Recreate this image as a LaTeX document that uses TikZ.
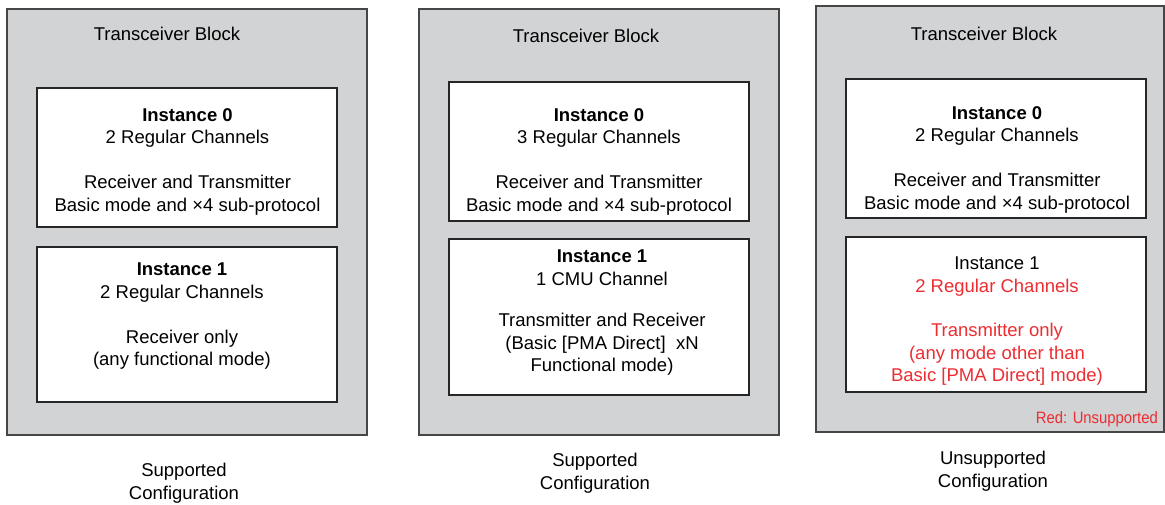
\documentclass[tikz,border=0pt]{standalone}
\usepackage{fontspec}
\setmainfont{Liberation Sans}
\usepackage{graphicx}
\usetikzlibrary{positioning}
\definecolor{blockgray}{RGB}{209,211,212}
\definecolor{blockline}{RGB}{70,70,70}
\definecolor{unsupred}{RGB}{237,45,50}
\tikzset{
  block/.style={draw=blockline, line width=1.1pt, fill=blockgray,
    minimum width=360pt, minimum height=426pt, inner sep=0pt},
  inbox/.style={draw=black!85, line width=1.1pt, fill=white,
    minimum width=300pt, inner sep=0pt},
  txt/.style={anchor=north, align=center, inner sep=0pt,
    font=\fontsize{18.5}{22.5}\selectfont},
  redtxt/.style={text=unsupred}
}

\begin{document}
\begin{tikzpicture}[x=1pt,y=-1pt]
    \useasboundingbox (0,0) rectangle (1165,504);

    \node[block] (blkA) at (187,222) {};
    \node[block] (blkB) at (599,222) {};
    \node[block, minimum width=348pt] (blkC) at (990,219) {};

    \node[inbox, minimum height=139pt] (instA0) at (187,157.5) {};
    \node[inbox, minimum height=155pt] (instA1) at (187,324.5) {};
    \node[inbox, minimum height=139pt] (instB0) at (599,151.5) {};
    \node[inbox, minimum height=156pt] (instB1) at (599,317) {};
    \node[inbox, minimum height=139pt] (instC0) at (996,148.5) {};
    \node[inbox, minimum height=155pt] (instC1) at (996,314.5) {};

    \node[txt] (titleA) at (167,27) {Transceiver Block};
    \node[txt] (titleB) at (586,29) {Transceiver Block};
    \node[txt] (titleC) at (984,27) {Transceiver Block};

    \node[txt] (textA0) at (187.5,108) {\textbf{Instance 0}\\2 Regular Channels\\[22.5pt]
        Receiver and Transmitter\\Basic mode and ×4 sub-protocol};
    \node[txt] (textA1) at (182,263) {\textbf{Instance 1}\\2 Regular Channels\\[22.5pt]
        Receiver only\\(any functional mode)};
    \node[txt] (textB0) at (599,108) {\textbf{Instance 0}\\3 Regular Channels\\[22.5pt]
        Receiver and Transmitter\\Basic mode and ×4 sub-protocol};
    \node[txt] (textB1) at (602,250) {\textbf{Instance 1}\\1 CMU Channel\\[19pt]
        Transmitter and Receiver\\(Basic [PMA Direct]\ \ xN\\Functional mode)};
    \node[txt] (textC0) at (997,106) {\textbf{Instance 0}\\2 Regular Channels\\[22.5pt]
        Receiver and Transmitter\\Basic mode and ×4 sub-protocol};
    \node[txt] (textC1) at (997,257) {Instance 1\\\textcolor{unsupred}{2 Regular Channels}\\[22pt]
        \textcolor{unsupred}{Transmitter only}\\\textcolor{unsupred}{(any mode other than}\\
        \textcolor{unsupred}{Basic [PMA Direct] mode)}};

    \node[txt, redtxt, anchor=north east, font=\fontsize{16.5}{20}\selectfont]
        (legendC) at (1158,411) {\scalebox{0.9}[1]{Red: Unsupported}};

    \node[txt] (capA) at (184,463) {Supported\\Configuration};
    \node[txt] (capB) at (595,453) {Supported\\Configuration};
    \node[txt] (capC) at (993,451) {Unsupported\\Configuration};
\end{tikzpicture}
\end{document}
